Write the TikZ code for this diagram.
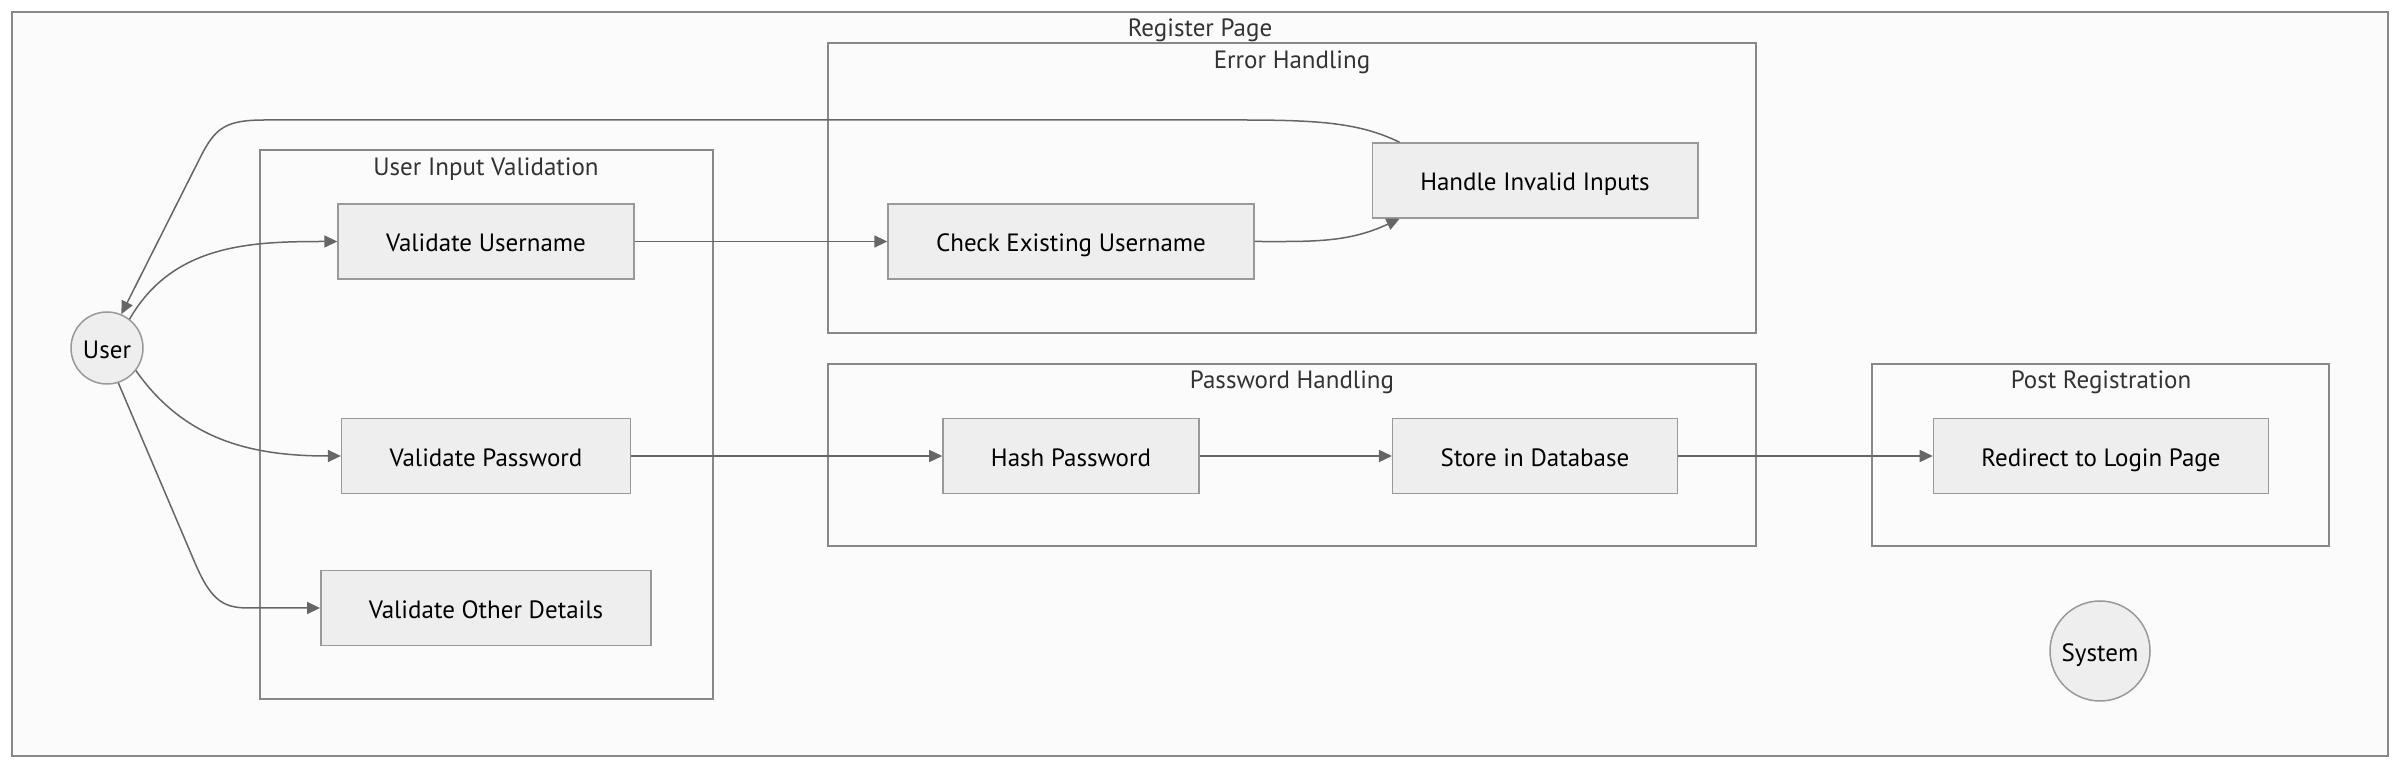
\documentclass[tikz,border=0pt]{standalone}
\usepackage{fontspec}
\setmainfont{PT Sans}
\usetikzlibrary{arrows.meta}
\definecolor{edgegray}{HTML}{666666}
\definecolor{nodeline}{HTML}{999999}
\definecolor{nodefill}{HTML}{EEEEEE}
\definecolor{clusterline}{HTML}{888888}
\definecolor{clusterfill}{HTML}{FBFBFB}
\definecolor{titlegray}{HTML}{333333}
\begin{document}
\begin{tikzpicture}[x=1pt,y=1pt,
    box/.style={draw=nodeline, fill=nodefill, line width=1.5pt, minimum height=75pt,
      inner xsep=48pt, text height=21pt, text depth=0pt, font=\fontsize{25}{30}\selectfont},
    actor/.style={circle, draw=nodeline, fill=nodefill, line width=1.5pt, inner sep=2pt,
      text height=21pt, text depth=0pt, font=\fontsize{25}{30}\selectfont},
    cluster/.style={draw=clusterline, fill=clusterfill, line width=1.5pt},
    ctitle/.style={text=titlegray, inner sep=0pt, text height=21pt, text depth=0pt,
      font=\fontsize{25}{30}\selectfont},
    flow/.style={draw=edgegray, line width=1.5pt, -{Triangle[length=13pt,width=12pt]}}]
  \useasboundingbox[fill=white] (0,0) rectangle (2400,768);
  \draw[cluster] (12,12) rectangle (2388,756);
  \draw[cluster] (260,69) rectangle (713,618);
  \draw[cluster] (828,435) rectangle (1756,725);
  \draw[cluster] (828,222) rectangle (1756,404);
  \draw[cluster] (1872,222) rectangle (2329,404);
  \draw
    (1200,742) node[ctitle] (regt){Register Page}
    (486,603) node[ctitle] (uivt){User Input Validation}
    (1292,710) node[ctitle] (errt){Error Handling}
    (1292,390) node[ctitle] (pwdt){Password Handling}
    (2101,390) node[ctitle] (postt){Post Registration};
  \draw
    (107,420) node[actor, minimum size=72pt] (user){User}
    (2100,117) node[actor, minimum size=100pt] (system){System}
    (486,526.5) node[box] (vuser){Validate Username}
    (486,312) node[box] (vpass){Validate Password}
    (486,160) node[box] (vother){Validate Other Details}
    (1071,526.5) node[box] (check){Check Existing Username}
    (1535,587.5) node[box] (invalid){Handle Invalid Inputs}
    (1071,312) node[box] (hash){Hash Password}
    (1535,312) node[box] (store){Store in Database}
    (2101,312) node[box] (login){Redirect to Login Page};
  \begin{scope}[flow]
    \draw (user.52) to[out=60, in=180] (vuser.west);
    \draw (user.-38) to[out=-55, in=180] (vpass.west);
    \draw (user.-72) -- (195,205) .. controls (212,165) and (225,160) .. (250,160) -- (vother.west);
    \draw (vuser) to (check);
    \draw (check.east) to[out=0, in=205] ([xshift=28pt]invalid.south west);
    \draw ([xshift=28pt]invalid.north west) .. controls (1360,645) and (1320,648) .. (1240,648)
      -- (265,648) .. controls (225,648) and (215,640) .. (200,610) -- (user.67);
    \draw (vpass) to (hash);
    \draw (hash) to (store);
    \draw (store) to (login);
  \end{scope}
\end{tikzpicture}
\end{document}
